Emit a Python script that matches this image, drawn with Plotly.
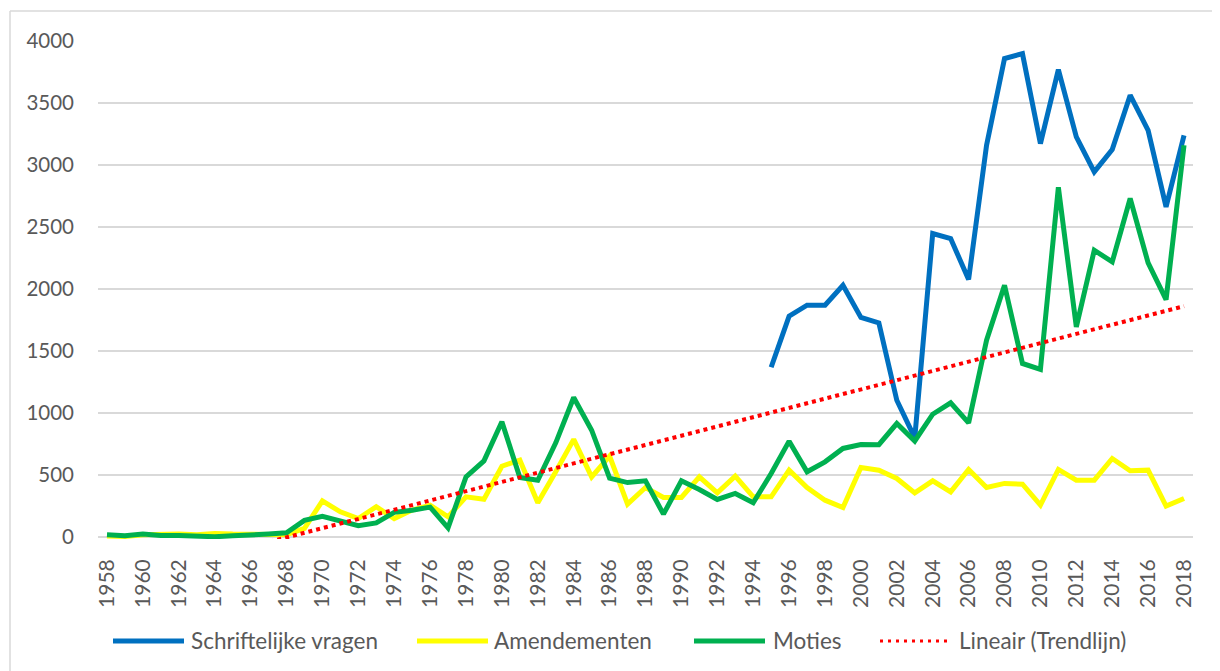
import numpy as np
import plotly.graph_objects as go

years = list(range(1958, 2019))

schriftelijke_vragen = [None] * 37 + [
    1370, 1781, 1870, 1870, 2031, 1771, 1727, 1104, 800, 2448,
    2407, 2077, 3160, 3858, 3898, 3173, 3769, 3227, 2945, 3125,
    3563, 3280, 2663, 3240]

amendementen = [
    10, 5, 20, 25, 25, 20, 30, 25, 20, 15,
    20, 70, 293, 204, 150, 245, 150, 218, 258, 164,
    325, 306, 572, 621, 277, 527, 788, 486, 653, 266,
    400, 320, 320, 486, 357, 492, 325, 325, 540, 400,
    298, 239, 562, 540, 473, 357, 454, 365, 546, 400,
    433, 427, 258, 546, 459, 459, 634, 535, 540, 250,
    312]

moties = [
    20, 12, 25, 13, 14, 10, 3, 11, 15, 25,
    35, 135, 168, 130, 92, 115, 200, 217, 242, 75,
    486, 615, 930, 481, 459, 760, 1126, 862, 475, 440,
    454, 185, 454, 384, 304, 352, 277, 513, 774, 527,
    607, 715, 747, 745, 916, 775, 991, 1083, 921, 1588,
    2031, 1400, 1352, 2820, 1695, 2313, 2219, 2730, 2211, 1915,
    3160]

series_names = ["Schriftelijke vragen", "Amendementen", "Moties", "Lineair (Trendlijn)"]
series_colors = ["#0070C0", "#FFFF00", "#00B050", "#FF0000"]
y_ticks = [0, 500, 1000, 1500, 2000, 2500, 3000, 3500, 4000]
x_ticks = list(range(1958, 2019, 2))

# Linear trendline (least squares) of Moties, as in the spreadsheet
coef = np.polyfit(np.array(years, dtype=float), np.array(moties, dtype=float), 1)
trend = np.polyval(coef, np.array(years, dtype=float))

fig = go.Figure()
for name, vals, col in zip(series_names[:3], [schriftelijke_vragen, amendementen, moties], series_colors[:3]):
    fig.add_trace(go.Scatter(x=years, y=vals, mode="lines", name=name,
                             line=dict(color=col, width=5), showlegend=False,
                             connectgaps=False))
fig.add_trace(go.Scatter(x=years, y=trend, mode="lines", name=series_names[3],
                         line=dict(color=series_colors[3], width=4, dash="4px,4px"),
                         showlegend=False))

# figure geometry (page body has an 8px offset)
OFF = 8
W, H = 1212, 663
L, R, T, B = 90, 27, 33, 132
pw, ph = W - L - R, H - T - B

def px2x(px):
    return (px - OFF - L) / pw

def py2y(py):
    return (H - B - (py - OFF)) / ph

text_col = "#595959"
font_family = "Lato, 'Open Sans', sans-serif"

shapes = []
annotations = []
# chart frame (left and top edge)
frame_col = "#D9D9D9"
shapes.append(dict(type="line", xref="paper", yref="paper", x0=px2x(10), x1=px2x(10),
                   y0=py2y(11), y1=py2y(690), line=dict(color=frame_col, width=1.5)))
shapes.append(dict(type="line", xref="paper", yref="paper", x0=px2x(10), x1=px2x(1240),
                   y0=py2y(11), y1=py2y(11), line=dict(color=frame_col, width=1.5)))

# legend (drawn manually to match long line samples)
leg_y = py2y(641)
leg_items = [(113, 184, 189), (417, 488, 492), (694, 765, 771), (880, 950, 957)]
for i, (a, b, t) in enumerate(leg_items):
    if i < 3:
        shapes.append(dict(type="line", xref="paper", yref="paper", x0=px2x(a), x1=px2x(b),
                           y0=leg_y, y1=leg_y, line=dict(color=series_colors[i], width=5)))
    else:
        shapes.append(dict(type="line", xref="paper", yref="paper", x0=px2x(a), x1=px2x(b),
                           y0=leg_y, y1=leg_y,
                           line=dict(color=series_colors[i], width=3, dash="3px,5px")))
    annotations.append(dict(xref="paper", yref="paper", x=px2x(t), y=leg_y, text=series_names[i],
                            showarrow=False, xanchor="left", yanchor="middle",
                            font=dict(size=22.5, color=text_col, family=font_family)))

fig.update_layout(
    width=W, height=H,
    margin=dict(l=L, r=R, t=T, b=B),
    paper_bgcolor="white", plot_bgcolor="white",
    font=dict(family=font_family, color=text_col, size=20),
    shapes=shapes, annotations=annotations,
    showlegend=False,
)
fig.update_xaxes(range=[1957.5, 2018.5], tickmode="array", tickvals=x_ticks,
                 ticktext=[str(v) for v in x_ticks], tickangle=-90,
                 showgrid=False, zeroline=False, showline=False, ticks="",
                 ticklabelstandoff=15, tickfont=dict(size=21, color=text_col))
fig.update_yaxes(range=[-15, 4000], tickmode="array", tickvals=y_ticks,
                 ticktext=[str(v) for v in y_ticks],
                 showgrid=True, gridcolor="#D9D9D9", gridwidth=1.5,
                 zeroline=False, showline=False, ticks="",
                 ticklabelstandoff=23, tickfont=dict(size=20.5, color=text_col))

fig.write_html("out.html")
